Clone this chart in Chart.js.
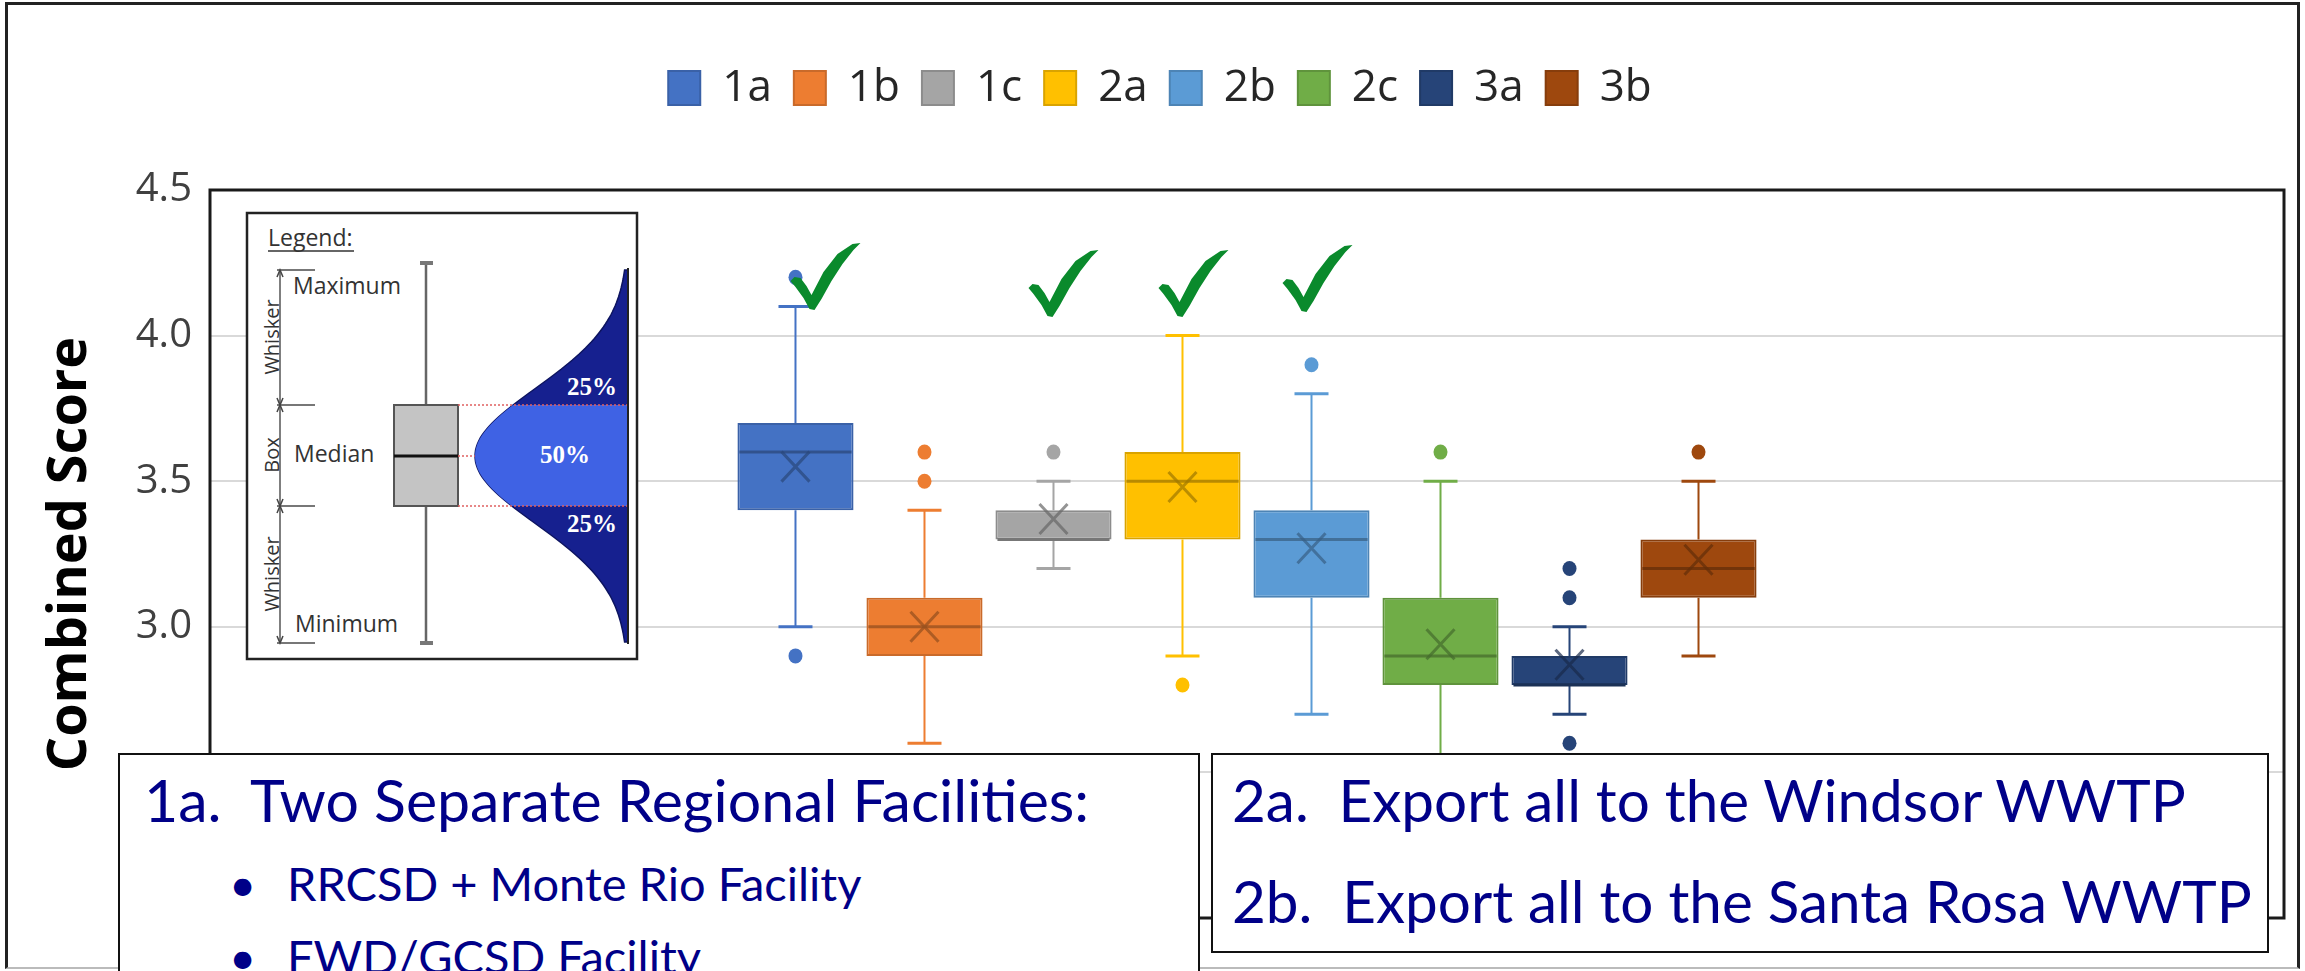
<!DOCTYPE html>
<html>
<head>
<meta charset="utf-8">
<script src="https://cdn.jsdelivr.net/npm/chart.js@4.4.1/dist/chart.umd.min.js"></script>
<style>
  body { margin: 0; background: #fff; overflow: hidden; }
  #wrap { position: relative; width: 2305px; height: 971px; overflow: hidden; }
  #chart { position: absolute; left: 0; top: 0; }
  #frame { position: absolute; left: 5px; top: 2px; width: 2289px; height: 962px;
           border: 3px solid #222; border-bottom: 2px solid #bbb; }
  #inset { position: absolute; left: 0; top: 0; }
  .note { position: absolute; background: #fff; border: 2px solid #111; color: #000088;
          font-family: Lato, "Open Sans", sans-serif; white-space: pre; }
  .note span { position: absolute; line-height: 1; }
  .big { font-size: 59px; }
  .big2 { font-size: 58.4px; }
  .small { font-size: 47px; }
</style>
</head>
<body>
<div id="wrap">
  <div id="frame"></div>
  <canvas id="chart" width="2305" height="971"></canvas>
  <svg id="inset" width="2305" height="971"></svg>
  <div class="note" style="left:118px; top:753px; width:1078px; height:260px;">
    <span class="big" style="left:24px; top:15px;">1a.  Two Separate Regional Facilities:</span>
    <span class="small" style="left:109px; top:105px;">•</span>
    <span class="small" style="left:167px; top:105px;">RRCSD + Monte Rio Facility</span>
    <span class="small" style="left:109px; top:178px;">•</span>
    <span class="small" style="left:167px; top:178px;">FWD/GCSD Facility</span>
  </div>
  <div class="note" style="left:1211px; top:753px; width:1054px; height:196px;">
    <span class="big2" style="left:19px; top:15px;">2a.  Export all to the Windsor WWTP</span>
    <span class="big2" style="left:19px; top:116px;">2b.  Export all to the Santa Rosa WWTP</span>
  </div>
</div>
<script>
// box plot statistics per option
const series = ['1a', '1b', '1c', '2a', '2b', '2c', '3a', '3b'];
const whiskerLow = [3.0, 2.6, 3.2, 2.9, 2.7, 2.4, 2.7, 2.9];
const quartile1 = [3.4, 2.9, 3.3, 3.3, 3.1, 2.8, 2.8, 3.1];
const medians = [3.6, 3.0, 3.3, 3.5, 3.3, 2.9, 2.8, 3.2];
const quartile3 = [3.7, 3.1, 3.4, 3.6, 3.4, 3.1, 2.9, 3.3];
const whiskerHigh = [4.1, 3.4, 3.5, 4.0, 3.8, 3.5, 3.0, 3.5];
const means = [3.55, 3.0, 3.37, 3.48, 3.27, 2.94, 2.87, 3.23];
const outliers = [[4.2, 2.9], [3.6, 3.5], [3.6], [2.8], [3.9], [3.6], [3.2, 3.1, 2.6], [3.6]];
const checked = ['1a', '1c', '2a', '2b'];
const yTicks = [2.0, 2.5, 3.0, 3.5, 4.0, 4.5];

const colors = ['#4472C4', '#ED7D31', '#A5A5A5', '#FFC000', '#5B9BD5', '#70AD47', '#264478', '#9E480E'];

function shade(hex, f, a) {
    const n = parseInt(hex.slice(1), 16);
    const r = Math.round(((n >> 16) & 255) * f);
    const g = Math.round(((n >> 8) & 255) * f);
    const b = Math.round((n & 255) * f);
    return 'rgba(' + r + ',' + g + ',' + b + ',' + (a === undefined ? 1 : a) + ')';
}

// whiskers, median, mean, outliers, check marks and plot frame
const boxPlotExtras = {
    id: 'boxPlotExtras',
    afterLayout(chart, args, opts) {
        // keep the legend near the top edge, the plot starts lower
        const lg = chart.legend;
        const shift = opts.legendTop - lg.top;
        lg.top += shift;
        lg.bottom += shift;
        lg.left += opts.legendShiftX;
        lg.right += opts.legendShiftX;
    },
    beforeDatasetsDraw(chart) {
        const ctx = chart.ctx;
        const y = chart.scales.y;
        ctx.save();
        series.forEach((s, i) => {
            const bar = chart.getDatasetMeta(i).data[0];
            const cx = bar.x;
            ctx.strokeStyle = colors[i];
            ctx.lineWidth = 2;
            ctx.beginPath();
            ctx.moveTo(cx, y.getPixelForValue(quartile3[i]));
            ctx.lineTo(cx, y.getPixelForValue(whiskerHigh[i]));
            ctx.moveTo(cx, y.getPixelForValue(quartile1[i]));
            ctx.lineTo(cx, y.getPixelForValue(whiskerLow[i]));
            ctx.stroke();
            ctx.lineWidth = 3;
            ctx.beginPath();
            [whiskerHigh[i], whiskerLow[i]].forEach(v => {
                const py = y.getPixelForValue(v);
                ctx.moveTo(cx - 17, py);
                ctx.lineTo(cx + 17, py);
            });
            ctx.stroke();
        });
        ctx.restore();
    },
    afterDatasetsDraw(chart, args, opts) {
        const ctx = chart.ctx;
        const y = chart.scales.y;
        const area = chart.chartArea;
        ctx.save();
        series.forEach((s, i) => {
            const bar = chart.getDatasetMeta(i).data[0];
            const cx = bar.x;
            const half = bar.width / 2;
            // median
            const my = y.getPixelForValue(medians[i]);
            ctx.strokeStyle = shade(colors[i], 0.72);
            ctx.lineWidth = 3;
            ctx.beginPath();
            ctx.moveTo(cx - half + 2, my);
            ctx.lineTo(cx + half - 2, my);
            ctx.stroke();
            // mean X
            const ay = y.getPixelForValue(means[i]);
            ctx.strokeStyle = shade(colors[i], 0.62, 0.7);
            ctx.lineWidth = 3;
            ctx.beginPath();
            ctx.moveTo(cx - 14, ay - 15);
            ctx.lineTo(cx + 14, ay + 15);
            ctx.moveTo(cx + 14, ay - 15);
            ctx.lineTo(cx - 14, ay + 15);
            ctx.stroke();
            // outliers
            ctx.fillStyle = colors[i];
            outliers[i].forEach(v => {
                ctx.beginPath();
                ctx.ellipse(cx, y.getPixelForValue(v), 7, 7.5, 0, 0, Math.PI * 2);
                ctx.fill();
            });
        });
        // check marks above the preferred options
        const tick = [[0, 38], [4, 34], [10, 35], [16, 43], [21, 52], [33, 29], [47, 11], [62, 1], [70, 0],
                      [63, 7], [52, 21], [41, 38], [31, 56], [24, 67], [19, 66], [13, 55], [5, 44]];
        ctx.fillStyle = '#0A8A2C';
        opts.checks.forEach(c => {
            const i = series.indexOf(c.series);
            if (checked.indexOf(c.series) < 0) return;
            const bar = chart.getDatasetMeta(i).data[0];
            const ox = bar.x + c.dx;
            ctx.beginPath();
            tick.forEach((p, k) => {
                if (k === 0) ctx.moveTo(ox + p[0], c.top + p[1]);
                else ctx.lineTo(ox + p[0], c.top + p[1]);
            });
            ctx.closePath();
            ctx.fill();
        });
        // plot frame
        ctx.strokeStyle = '#1a1a1a';
        ctx.lineWidth = 3;
        ctx.strokeRect(area.left, area.top, area.right - area.left, area.bottom - area.top);
        ctx.restore();
    }
};

const datasets = series.map((name, i) => ({
    label: name,
    data: [[quartile1[i], quartile3[i]]],
    backgroundColor: colors[i],
    borderColor: shade(colors[i], 0.85),
    borderWidth: 2,
    borderSkipped: false,
    categoryPercentage: 0.4976,
    barPercentage: 0.9
}));

new Chart(document.getElementById('chart'), {
    type: 'bar',
    data: { labels: ['Combined'], datasets: datasets },
    plugins: [boxPlotExtras],
    options: {
        responsive: false,
        animation: false,
        events: [],
        layout: { padding: { top: 44, right: 21, bottom: 53, left: 0 } },
        plugins: {
            tooltip: { enabled: false },
            legend: {
                position: 'top',
                labels: {
                    boxWidth: 32,
                    boxHeight: 34,
                    padding: 22,
                    color: '#262626',
                    font: { family: 'Open Sans', size: 44 }
                }
            },
            boxPlotExtras: {
                legendTop: 44,
                legendShiftX: 18,
                checks: [
                    { series: '1a', dx: -5, top: 243 },
                    { series: '1c', dx: -25, top: 250 },
                    { series: '2a', dx: -24, top: 250 },
                    { series: '2b', dx: -29, top: 245 }
                ]
            }
        },
        scales: {
            x: { display: false },
            y: {
                min: 2.0,
                max: 4.5,
                afterBuildTicks: s => { s.ticks = yTicks.map(v => ({ value: v })); },
                afterFit: s => { s.width = 210; s.paddingTop = 190; },
                ticks: {
                    padding: 18,
                    color: '#404040',
                    font: { family: 'Open Sans', size: 40 },
                    callback: v => Number(v).toFixed(1)
                },
                grid: { color: '#d9d9d9', lineWidth: 2, drawTicks: false },
                border: { display: false },
                title: {
                    display: true,
                    text: 'Combined Score',
                    color: '#000',
                    padding: { top: 38, bottom: 0 },
                    font: { family: 'Open Sans', size: 54, weight: 'bold' }
                }
            }
        }
    }
});

// small legend picture inset (drawn in svg)
(function () {
    const svg = document.getElementById('inset');
    const NS = 'http://www.w3.org/2000/svg';
    function el(tag, attrs, text) {
        const e = document.createElementNS(NS, tag);
        for (const k in attrs) e.setAttribute(k, attrs[k]);
        if (text) e.textContent = text;
        svg.appendChild(e);
        return e;
    }
    el('rect', { x: 247, y: 213, width: 390, height: 446, fill: '#fff', stroke: '#222', 'stroke-width': 2.5 });
    el('text', { x: 268, y: 246, 'font-family': 'Open Sans', 'font-size': 23, fill: '#333' }, 'Legend:');
    el('line', { x1: 268, y1: 251, x2: 354, y2: 251, stroke: '#333', 'stroke-width': 1.5 });
    // bracket
    el('line', { x1: 280, y1: 270, x2: 280, y2: 643, stroke: '#555', 'stroke-width': 1.5 });
    [270, 405, 506, 643].forEach(v => el('line', { x1: 277, y1: v, x2: 315, y2: v, stroke: '#777', 'stroke-width': 2 }));
    [[270, 1], [405, -1], [405, 1], [506, -1], [506, 1], [643, -1]].forEach(a => {
        const yy = a[0], d = a[1];
        el('path', { d: 'M277 ' + (yy + 7 * d) + ' L280 ' + yy + ' L283 ' + (yy + 7 * d), fill: 'none', stroke: '#444', 'stroke-width': 1.5 });
    });
    [['Whisker', 337], ['Box', 455], ['Whisker', 574]].forEach(t => {
        el('text', { transform: 'translate(279,' + t[1] + ') rotate(-90)', 'text-anchor': 'middle',
                     'font-family': 'Open Sans', 'font-size': 20, fill: '#333' }, t[0]);
    });
    el('text', { x: 293, y: 294, 'font-family': 'Open Sans', 'font-size': 23, fill: '#333' }, 'Maximum');
    el('text', { x: 294, y: 462, 'font-family': 'Open Sans', 'font-size': 23, fill: '#333' }, 'Median');
    el('text', { x: 295, y: 632, 'font-family': 'Open Sans', 'font-size': 23, fill: '#333' }, 'Minimum');
    // grey box plot
    el('line', { x1: 426, y1: 263, x2: 426, y2: 643, stroke: '#666', 'stroke-width': 2.5 });
    el('line', { x1: 420, y1: 263, x2: 433, y2: 263, stroke: '#777', 'stroke-width': 4 });
    el('line', { x1: 420, y1: 643, x2: 433, y2: 643, stroke: '#777', 'stroke-width': 4 });
    el('rect', { x: 394, y: 405, width: 64, height: 101, fill: '#c4c4c4', stroke: '#555', 'stroke-width': 2 });
    el('line', { x1: 394, y1: 456, x2: 458, y2: 456, stroke: '#111', 'stroke-width': 3 });
    // bell curve
    const edge = 628, peak = 153, mid = 456, sig2 = 4554;
    const curveX = yy => edge - peak * Math.exp(-(yy - mid) * (yy - mid) / (2 * sig2));
    let d = 'M' + edge + ' 270';
    for (let yy = 270; yy <= 642; yy += 3) d += ' L' + curveX(yy).toFixed(1) + ' ' + yy;
    d += ' L' + edge + ' 642 Z';
    el('path', { d: d, fill: '#16208f', stroke: '#0d1460', 'stroke-width': 1.5 });
    let m = 'M' + edge + ' 405';
    for (let yy = 405; yy <= 506; yy += 3) m += ' L' + curveX(yy).toFixed(1) + ' ' + yy;
    m += ' L' + curveX(506).toFixed(1) + ' 506 L' + edge + ' 506 Z';
    el('path', { d: m, fill: '#3f62e4' });
    [[405, edge], [456, curveX(456)], [506, edge]].forEach(l => {
        el('line', { x1: 458, y1: l[0], x2: l[1], y2: l[0], stroke: '#e06060', 'stroke-width': 1.5, 'stroke-dasharray': '2 2' });
    });
    el('line', { x1: edge, y1: 268, x2: edge, y2: 644, stroke: '#222', 'stroke-width': 2 });
    [['25%', 592, 395], ['50%', 565, 463], ['25%', 592, 532]].forEach(t => {
        el('text', { x: t[1], y: t[2], 'text-anchor': 'middle', 'font-family': 'Liberation Serif, DejaVu Serif, serif',
                     'font-size': 25, 'font-weight': 'bold', fill: '#fff' }, t[0]);
    });
})();
</script>
</body>
</html>
